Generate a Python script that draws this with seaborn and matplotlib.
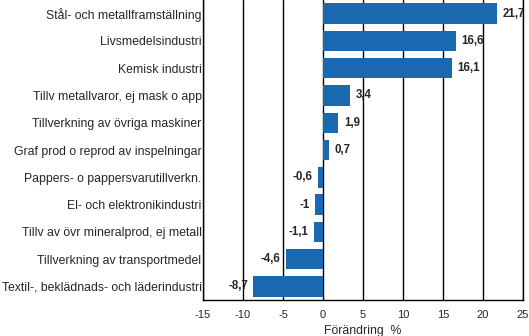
import matplotlib
matplotlib.use("Agg")
import matplotlib.pyplot as plt
import seaborn as sns
import pandas as pd

categories = [
    "Stål- och metallframställning",
    "Livsmedelsindustri",
    "Kemisk industri",
    "Tillv metallvaror, ej mask o app",
    "Tillverkning av övriga maskiner",
    "Graf prod o reprod av inspelningar",
    "Pappers- o pappersvarutillverkn.",
    "El- och elektronikindustri",
    "Tillv av övr mineralprod, ej metall",
    "Tillverkning av transportmedel",
    "Textil-, beklädnads- och läderindustri",
]
values = [21.7, 16.6, 16.1, 3.4, 1.9, 0.7, -0.6, -1.0, -1.1, -4.6, -8.7]
value_labels = ["21,7", "16,6", "16,1", "3,4", "1,9", "0,7", "-0,6", "-1", "-1,1", "-4,6", "-8,7"]
xticks = [-15, -10, -5, 0, 5, 10, 15, 20, 25]

sns.set_style("white")
plt.rcParams["font.family"] = ["Liberation Sans", "DejaVu Sans"]

df = pd.DataFrame({"cat": categories, "val": values})

fig = plt.figure(figsize=(5.29, 3.36), dpi=100)
ax = fig.add_axes([203 / 529, 36 / 336, 320 / 529, 300 / 336])

for x in xticks:
    ax.axvline(x, color="black", lw=1.0, zorder=0)

sns.barplot(data=df, x="val", y="cat", color="#1a69b0", saturation=1, width=0.75,
            linewidth=0, ax=ax, zorder=2)

for i, (v, lab) in enumerate(zip(values, value_labels)):
    if v >= 0:
        ax.text(v + 0.7, i, lab, ha="left", va="center", fontsize=8.3, fontweight="bold", zorder=3)
    else:
        ax.text(v - 0.7, i, lab, ha="right", va="center", fontsize=8.3, fontweight="bold", zorder=3)

ax.set_xlim(-15, 25)
ax.set_ylim(10.5, -0.5)
ax.set_xticks(xticks)
ax.set_xticklabels([str(x) for x in xticks], fontsize=8)
ax.tick_params(axis="both", length=0, pad=7)
ax.tick_params(axis="y", labelsize=8.8, pad=1)
ax.set_ylabel("")
ax.set_xlabel("Förändring  %", fontsize=8.8, labelpad=4)
for name, s in ax.spines.items():
    s.set_visible(name != "top")
    s.set_color("black")
    s.set_linewidth(1.0)

fig.savefig("out.png", dpi=100)
